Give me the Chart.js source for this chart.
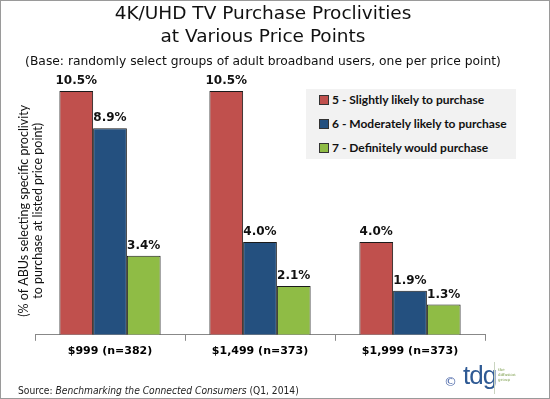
<!DOCTYPE html>
<html>
<head>
<meta charset="utf-8">
<script src="https://cdn.jsdelivr.net/npm/chart.js@4"></script>
<style>
  html, body { margin: 0; padding: 0; background: #fff; }
  #wrap {
    position: relative; width: 550px; height: 399px;
    box-sizing: border-box; border: 1px solid #9a9a9a; overflow: hidden;
  }
  #chart { position: absolute; left: 0; top: 0; }
  .title {
    position: absolute; left: 0; width: 524px; text-align: center;
    font-family: "DejaVu Sans", sans-serif; color: #111; white-space: nowrap;
  }
  #t1 { top: 0px; font-size: 18.5px; line-height: 23px; }
  #t2 { top: 23px; font-size: 18.5px; line-height: 23px; }
  #sub { top: 53px; font-size: 12.3px; line-height: 15px; }
  #legend {
    position: absolute; left: 305px; top: 88px; width: 210px; height: 70px;
    background: #f2f2f2; font: bold 12px Lato, sans-serif; color: #111;
  }
  #legend .item { position: absolute; left: 13px; height: 14px; line-height: 14px; white-space: nowrap; }
  #legend .sw {
    display: inline-block; width: 8px; height: 8px; border: 1px solid #333;
    margin-right: 3px; vertical-align: -1px;
  }
  #source {
    position: absolute; left: 17px; top: 384px;
    font: 10.2px "DejaVu Sans Condensed", "DejaVu Sans", sans-serif; color: #222; white-space: nowrap;
  }
  #logo { position: absolute; left: 442px; top: 360px; width: 80px; height: 34px; }
  #logo .c { position: absolute; left: 1px; top: 13px; font: 13px "DejaVu Sans", sans-serif; color: #4a66a8; }
  #logo .t { position: absolute; left: 20px; top: -1px; font: 26px "Liberation Sans Narrow", "Liberation Sans", sans-serif; color: #2f5a94; letter-spacing: -1px; }
  #logo .bar { position: absolute; left: 51px; top: 1px; width: 1px; height: 32px; background: #c9d4c0; }
  #logo .g { position: absolute; left: 55px; top: 6px; font: 4px "DejaVu Serif", serif; color: #7fa050; line-height: 5px; }
</style>
</head>
<body>
<div id="wrap">
  <canvas id="chart" width="548" height="397"></canvas>
  <div class="title" id="t1"></div>
  <div class="title" id="t2"></div>
  <div class="title" id="sub"></div>
  <div id="legend"></div>
  <div id="source">Source: <i>Benchmarking the Connected Consumers</i> (Q1, 2014)</div>
  <div id="logo"><span class="c">©</span><span class="t">tdg</span><span class="bar"></span><span class="g">the<br>diffusion<br>group</span></div>
</div>
<script>
// categories and series (percent of ABUs)
const categories = ["$999 (n=382)", "$1,499 (n=373)", "$1,999 (n=373)"];
const seriesNames = [
  "5 - Slightly likely to purchase",
  "6 - Moderately likely to purchase",
  "7 - Definitely would purchase"
];
const slightly = [10.5, 10.5, 4.0];
const moderately = [8.9, 4.0, 1.9];
const definitely = [3.4, 2.1, 1.3];
const seriesColors = ["#c0504d", "#24507f", "#8fbc45"];

const titleLines = ["4K/UHD TV Purchase Proclivities", "at Various Price Points"];
const subtitleText = "(Base: randomly select groups of adult broadband users, one per price point)";
const yTitleLines = ["(% of ABUs selecting specific proclivity", "to purchase at listed price point)"];

document.getElementById("t1").textContent = titleLines[0];
document.getElementById("t2").textContent = titleLines[1];
document.getElementById("sub").textContent = subtitleText;

// legend (inside the plot, drawn as html)
const legendEl = document.getElementById("legend");
seriesNames.forEach((name, i) => {
  const row = document.createElement("div");
  row.className = "item";
  row.style.top = (4 + i * 24) + "px";
  row.innerHTML = '<span class="sw" style="background:' + seriesColors[i] + '"></span>' + name;
  legendEl.appendChild(row);
});

// value labels above each bar
const valueLabels = {
  id: "valueLabels",
  afterDatasetsDraw(chart) {
    const ctx = chart.ctx;
    ctx.save();
    ctx.font = "bold 12px 'DejaVu Sans', sans-serif";
    ctx.fillStyle = "#111";
    ctx.textAlign = "center";
    ctx.textBaseline = "bottom";
    chart.data.datasets.forEach((ds, i) => {
      chart.getDatasetMeta(i).data.forEach((bar, j) => {
        ctx.fillText(ds.data[j].toFixed(1) + "%", bar.x, bar.y - 4);
      });
    });
    ctx.restore();
  }
};

// rotated y-axis title, a bit lower than the plot centre like the original
const yTitle = {
  id: "yTitle",
  afterDraw(chart) {
    const ctx = chart.ctx;
    const area = chart.chartArea;
    ctx.save();
    ctx.font = "12.5px Lato, sans-serif";
    ctx.fillStyle = "#111";
    ctx.textAlign = "center";
    ctx.textBaseline = "alphabetic";
    ctx.translate(area.left - 7, area.bottom - 124);
    ctx.rotate(-Math.PI / 2);
    ctx.fillText(yTitleLines[0], 0, 0);
    ctx.fillText(yTitleLines[1], 0, 13.5);
    ctx.restore();
  }
};

const allSeries = [slightly, moderately, definitely];

new Chart(document.getElementById("chart"), {
  type: "bar",
  data: {
    labels: categories,
    datasets: allSeries.map((vals, i) => ({
      label: seriesNames[i],
      data: vals,
      backgroundColor: seriesColors[i],
      borderColor: "#1a1a1a",
      borderWidth: 1,
      categoryPercentage: 0.675,
      barPercentage: 1.0
    }))
  },
  options: {
    responsive: false,
    animation: false,
    layout: { padding: { left: 14, right: 64, top: 70, bottom: 36 } },
    scales: {
      x: {
        grid: { offset: true, drawOnChartArea: false, tickLength: 6, color: "#888" },
        border: { color: "#888" },
        ticks: { color: "#000", font: { family: "DejaVu Sans", size: 11, weight: "bold" }, padding: 4 }
      },
      y: {
        min: 0,
        max: 11.36,
        ticks: { display: false },
        grid: { display: false },
        border: { display: false },
        afterFit(scale) { scale.width = 20; }
      }
    },
    plugins: {
      legend: { display: false },
      tooltip: { enabled: false }
    }
  },
  plugins: [valueLabels, yTitle]
});
</script>
</body>
</html>
